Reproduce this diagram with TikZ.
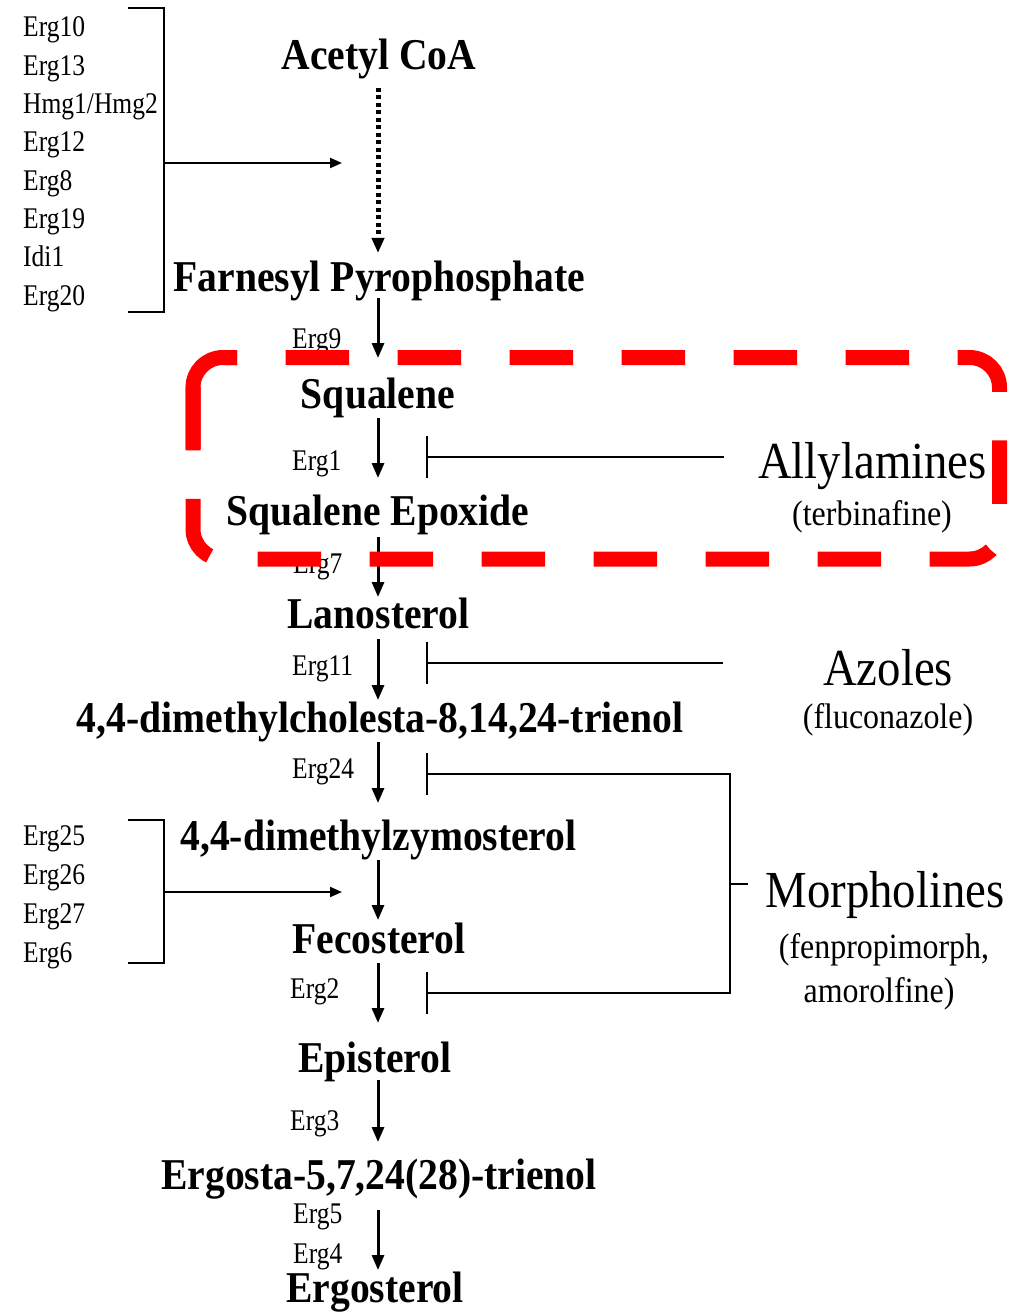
\documentclass[tikz,border=0pt]{standalone}
\usepackage{fontspec}
\setmainfont{Liberation Serif}
\newfontfamily\cmpfont[FakeStretch=0.9]{Liberation Serif}
\newfontfamily\clsfont[FakeStretch=0.9]{Liberation Serif}
\newfontfamily\enzfont[FakeStretch=0.85]{Liberation Serif}
\usetikzlibrary{arrows.meta,calc}
\tikzset{
  cmp/.style={font=\cmpfont\bfseries\fontsize{44}{44}\selectfont, inner sep=0pt, anchor=base},
  enz/.style={font=\enzfont\fontsize{30}{30}\selectfont, inner sep=0pt, anchor=base west},
  cls/.style={font=\clsfont\fontsize{52}{52}\selectfont, inner sep=0pt, anchor=base},
  drug/.style={font=\clsfont\fontsize{35.5}{35.5}\selectfont, inner sep=0pt, anchor=base},
  arr/.style={line width=3pt, -{Triangle[width=12pt,length=15pt]}},
  dotarr/.style={line width=5pt, dash pattern=on 4pt off 3.5pt, -{Triangle[width=12pt,length=15pt]}},
  sarr/.style={line width=2pt, -{Triangle[width=10pt,length=12pt]}},
  inh/.style={line width=2pt},
  inhbar/.style={line width=2pt, -{Bar[width=42pt]}},
  brk/.style={line width=2pt},
  redbox/.style={draw=red, line width=15pt, rounded corners=30pt},
}
\begin{document}
\begin{tikzpicture}[x=1pt, y=-1pt]
\useasboundingbox (0,0) rectangle (1020,1313);
\coordinate (ax) at (378,0);

% compounds
\node[cmp] (acetyl)   at (379,70)   {Acetyl CoA};
\node[cmp] (farnesyl) at (379.5,292) {Farnesyl Pyrophosphate};
\node[cmp] (squal)    at (378,408)  {Squalene};
\node[cmp] (epox)     at (378,525)  {Squalene Epoxide};
\node[cmp] (lano)     at (378.5,628) {Lanosterol};
\node[cmp] (chol)     at (380,732)  {4,4-dimethylcholesta-8,14,24-trienol};
\node[cmp] (zymo)     at (378.5,850) {4,4-dimethylzymosterol};
\node[cmp] (feco)     at (379,953)  {Fecosterol};
\node[cmp] (epi)      at (375,1072) {Episterol};
\node[cmp] (ergta)    at (379,1189) {Ergosta-5,7,24(28)-trienol};
\node[cmp] (ergol)    at (375,1302) {Ergosterol};

% pathway arrows
\draw[dotarr, shorten <=18pt, shorten >=39pt] (ax |- acetyl.base) -- (ax |- farnesyl.base);
\draw[arr, shorten <=6pt,  shorten >=50pt] (ax |- farnesyl.base) -- (ax |- squal.base);
\draw[arr, shorten <=10pt, shorten >=47pt] (ax |- squal.base) -- (ax |- epox.base);
\draw[arr, shorten <=12pt, shorten >=31pt] (ax |- epox.base) -- (ax |- lano.base);
\draw[arr, shorten <=11pt, shorten >=32pt] (ax |- lano.base) -- (ax |- chol.base);
\draw[arr, shorten <=10pt, shorten >=47pt] (ax |- chol.base) -- (ax |- zymo.base);
\draw[arr, shorten <=10pt, shorten >=33pt] (ax |- zymo.base) -- (ax |- feco.base);
\draw[arr, shorten <=10pt, shorten >=49pt] (ax |- feco.base) -- (ax |- epi.base);
\draw[arr, shorten <=8pt,  shorten >=47pt] (ax |- epi.base) -- (ax |- ergta.base);
\draw[arr, shorten <=21pt, shorten >=32pt] (ax |- ergta.base) -- (ax |- ergol.base);

% enzyme labels on the pathway
\node[enz] (e9)  at (292,348)  {Erg9};
\node[enz] (e1)  at (292,470)  {Erg1};
\node[enz] (e7)  at (293,573)  {Erg7};
\node[enz] (e11) at (292,675)  {Erg11};
\node[enz] (e24) at (292,778)  {Erg24};
\node[enz] (e2)  at (290,998)  {Erg2};
\node[enz] (e3)  at (290,1130) {Erg3};
\node[enz] (e5)  at (293,1223) {Erg5};
\node[enz] (e4)  at (293,1263) {Erg4};

% upper enzyme list
\foreach \t [count=\i from 0] in {Erg10,Erg13,Hmg1/Hmg2,Erg12,Erg8,Erg19,Idi1,Erg20}
  \node[enz] (up\i) at (23,{37+38.3*\i}) {\t};
\coordinate (ub1) at (128,8);
\coordinate (ub2) at (164,312);
\coordinate (ub3) at (128,312);
\coordinate (ubm) at (164,163);
\coordinate (uba) at (342,163);
\draw[brk] (ub1) -| (ub2) -- (ub3);
\draw[sarr] (ubm) -- (uba);

% lower enzyme list
\foreach \t [count=\i from 0] in {Erg25,Erg26,Erg27,Erg6}
  \node[enz] (lo\i) at (23,{845+39*\i}) {\t};
\coordinate (lb1) at (128,820);
\coordinate (lb2) at (164,963);
\coordinate (lb3) at (128,963);
\coordinate (lbm) at (164,892);
\coordinate (lba) at (342,892);
\draw[brk] (lb1) -| (lb2) -- (lb3);
\draw[sarr] (lbm) -- (lba);

% drug classes
\node[cls]  (ally)  at (872.5,478) {Allylamines};
\node[drug] (terb)  at (872,525)   {(terbinafine)};
\node[cls]  (azol)  at (888,685)   {Azoles};
\node[drug] (fluc)  at (888,728)   {(fluconazole)};
\node[cls]  (morph) at (885,907)   {Morpholines};
\node[drug] (fenp)  at (884,958)   {(fenpropimorph,};
\node[drug] (amor)  at (879,1002)  {amorolfine)};

% inhibition lines
\coordinate (a1) at (724,457);
\coordinate (a2) at (426,457);
\draw[inhbar] (a1) -- (a2);
\coordinate (z1) at (723,663);
\coordinate (z2) at (426,663);
\draw[inhbar] (z1) -- (z2);
\coordinate (m1) at (426,774);
\coordinate (mk) at (730,884);
\coordinate (m2) at (426,993);
\draw[inh, {Bar[width=42pt]}-{Bar[width=42pt]}] (m1) -| (mk) |- (m2);
\draw[inh] (mk) -- ++(18,0);

% red dashed highlight box
\draw[redbox, dash pattern=on 63.5pt off 48.5pt, dash phase=63.5pt]
  (237,357.5) -- (999.5,357.5) -- (999.5,559) -- (193,559) -- (193,357.5) -- (237,357.5);
\draw[redbox] (193,449) -- (193,357.5) -- (237,357.5);
\end{tikzpicture}
\end{document}
